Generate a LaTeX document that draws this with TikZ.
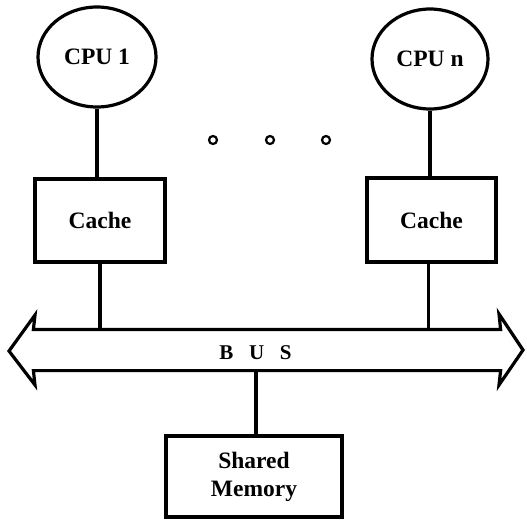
\documentclass[tikz,border=0pt]{standalone}
\usepackage{fontspec}
\setmainfont{Liberation Serif}
\usetikzlibrary{shapes.geometric}
\begin{document}
\begin{tikzpicture}[x=1pt,y=-1pt,
  line width=3.2pt,
  label font/.style={font=\fontsize{23.5}{27}\selectfont\bfseries},
  cpu/.style={draw, ellipse, line width=3.2pt, inner sep=0pt, label font},
  unit/.style={draw, rectangle, line width=3.2pt, inner sep=0pt, label font, align=center},
  link/.style={draw, line width=3.2pt},
  dot/.style={draw, circle, line width=2.2pt, minimum size=8pt, inner sep=0pt}]
\useasboundingbox (0,0) rectangle (527,520);

% processors
\node[cpu, minimum width=118pt, minimum height=100pt] (cpu1) at (97,57) {CPU 1};
\node[cpu, minimum width=116pt, minimum height=100pt] (cpun) at (430,59) {CPU n};

% caches
\node[unit, minimum width=130pt, minimum height=83pt] (cache1) at (100,220.5) {Cache};
\node[unit, minimum width=129pt, minimum height=84pt] (cachen) at (431.5,220) {Cache};

% ellipsis between the processors
\node[dot] (d1) at (213,140) {};
\node[dot] (d2) at (270,140) {};
\node[dot] (d3) at (326,140) {};

% bus shaft (invisible) and its double-headed outline
\node[minimum width=464pt, minimum height=38pt, inner sep=0pt] (bus) at (267,350) {};
\draw[line join=miter, line width=3.2pt]
  (bus.north west) -- (bus.north east) -- (499,314) -- (523,350) -- (499,385)
  -- (bus.south east) -- (bus.south west) -- (35,385) -- (9,351) -- (35,315) -- cycle;
\node[font=\fontsize{21}{25}\selectfont\bfseries] (buslabel) at (255.5,353)
  {B\hspace{0.75em}U\hspace{0.75em}S};

% shared memory
\node[unit, minimum width=176pt, minimum height=81pt] (mem) at (254,476.5)
  {Shared\\[1pt]Memory};

% connections
\coordinate (c1b) at (cache1.south);
\coordinate (cnb) at ([xshift=-3pt]cachen.south);
\coordinate (mtop) at ([xshift=2pt]mem.north);
\draw[link] (cpu1.south) -- (cpu1.south |- cache1.north);
\draw[link] (cpun.south) -- (cpun.south |- cachen.north);
\draw[link] (c1b) -- (c1b |- bus.north);
\draw[link] (cnb) -- (cnb |- bus.north);
\draw[link] (mtop |- bus.south) -- (mtop);
\end{tikzpicture}
\end{document}
